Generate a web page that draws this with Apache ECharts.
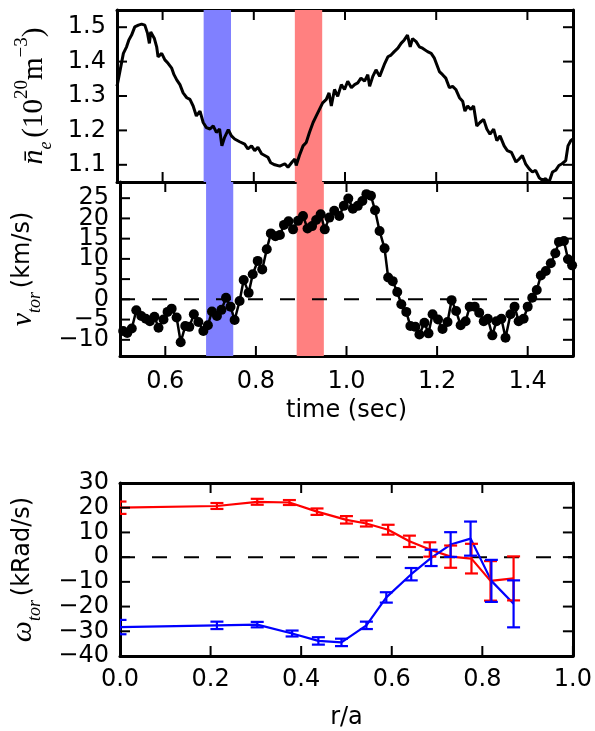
<!DOCTYPE html>
<html>
<head>
<meta charset="utf-8">
<script src="https://cdn.jsdelivr.net/npm/echarts@6/dist/echarts.min.js"></script>
<style>
html,body{margin:0;padding:0;background:#fff;}
#chart{width:595px;height:731px;}
</style>
</head>
<body>
<div id="chart"></div>
<script>
// ---------- data ----------
const timeTicks = [0.6, 0.8, 1.0, 1.2, 1.4];
const neTicks = [1.1, 1.2, 1.3, 1.4, 1.5];
const vTicks = [-10, -5, 0, 5, 10, 15, 20, 25];
const rTicks = [0.0, 0.2, 0.4, 0.6, 0.8, 1.0];
const omegaTicks = [-40, -30, -20, -10, 0, 10, 20, 30];
const blueWindow = [0.69, 0.75];
const redWindow = [0.89, 0.95];

const neTime = [0.500,0.507,0.514,0.521,0.526,0.532,0.539,0.547,0.554,0.561,0.567,0.571,0.574,0.582,0.587,0.590,0.598,0.605,0.612,0.620,0.625,0.631,0.638,0.645,0.653,0.660,0.667,0.674,0.682,0.689,0.696,0.704,0.711,0.718,0.725,0.730,0.736,0.744,0.751,0.758,0.769,0.780,0.787,0.795,0.802,0.809,0.817,0.824,0.831,0.837,0.846,0.857,0.868,0.875,0.884,0.890,0.893,0.900,0.908,0.915,0.922,0.930,0.937,0.944,0.951,0.959,0.965,0.970,0.977,0.984,0.992,0.999,1.006,1.014,1.021,1.028,1.035,1.043,1.050,1.054,1.061,1.068,1.076,1.086,1.094,1.101,1.108,1.116,1.123,1.130,1.137,1.143,1.148,1.156,1.163,1.170,1.181,1.189,1.196,1.207,1.214,1.221,1.229,1.236,1.243,1.251,1.258,1.263,1.269,1.276,1.282,1.289,1.296,1.304,1.311,1.318,1.326,1.333,1.340,1.349,1.356,1.365,1.375,1.382,1.389,1.396,1.404,1.411,1.418,1.426,1.433,1.440,1.447,1.455,1.462,1.469,1.476,1.484,1.489,1.495,1.500];
const neValue = [1.328,1.376,1.424,1.443,1.463,1.477,1.501,1.506,1.509,1.506,1.482,1.453,1.486,1.467,1.443,1.414,1.424,1.405,1.395,1.381,1.362,1.347,1.333,1.309,1.295,1.290,1.271,1.242,1.256,1.223,1.208,1.204,1.213,1.194,1.204,1.155,1.180,1.202,1.184,1.175,1.167,1.160,1.146,1.155,1.141,1.151,1.132,1.127,1.122,1.106,1.100,1.096,1.103,1.093,1.108,1.117,1.098,1.127,1.155,1.165,1.194,1.223,1.242,1.261,1.280,1.290,1.309,1.271,1.319,1.299,1.333,1.319,1.343,1.324,1.333,1.338,1.352,1.343,1.362,1.328,1.357,1.376,1.357,1.391,1.414,1.419,1.429,1.439,1.453,1.463,1.477,1.443,1.467,1.458,1.443,1.439,1.429,1.424,1.410,1.371,1.362,1.352,1.324,1.328,1.319,1.295,1.285,1.256,1.271,1.261,1.271,1.213,1.223,1.232,1.204,1.189,1.204,1.170,1.184,1.155,1.141,1.136,1.108,1.117,1.127,1.103,1.088,1.079,1.084,1.062,1.055,1.060,1.048,1.079,1.084,1.098,1.103,1.112,1.155,1.170,1.175];

const vTime = [0.507,0.516,0.526,0.536,0.547,0.557,0.566,0.576,0.585,0.596,0.605,0.614,0.625,0.634,0.644,0.653,0.663,0.673,0.684,0.694,0.703,0.714,0.724,0.734,0.744,0.753,0.764,0.773,0.784,0.793,0.804,0.814,0.824,0.833,0.843,0.853,0.862,0.872,0.882,0.893,0.904,0.914,0.924,0.933,0.943,0.952,0.962,0.973,0.984,0.994,1.004,1.014,1.025,1.035,1.044,1.054,1.063,1.073,1.084,1.092,1.102,1.112,1.121,1.132,1.141,1.152,1.161,1.172,1.181,1.190,1.202,1.212,1.223,1.232,1.242,1.252,1.263,1.272,1.283,1.293,1.303,1.312,1.322,1.331,1.342,1.351,1.362,1.371,1.380,1.391,1.400,1.410,1.420,1.429,1.440,1.451,1.461,1.469,1.480,1.489,1.498];
const vValue = [-7.8,-8.3,-7.2,-2.7,-4.1,-4.8,-5.4,-4.3,-7.0,-5.0,-3.1,-2.3,-4.5,-10.6,-6.6,-6.8,-3.7,-5.6,-7.8,-6.4,-3.0,-4.1,-2.6,0.4,-1.8,-5.1,-0.4,4.8,1.6,6.2,9.5,7.4,12.4,16.3,15.6,15.9,18.4,19.3,17.3,19.4,20.6,17.5,18.1,19.6,21.0,17.3,20.2,21.9,20.6,23.1,24.9,22.4,23.1,24.3,26.0,25.6,22.0,16.9,12.6,5.4,4.5,1.8,-1.2,-3.1,-6.6,-6.8,-8.7,-5.8,-8.4,-3.7,-5.0,-7.3,-5.6,-0.2,-2.9,-6.4,-5.4,-1.8,-1.8,-3.3,-5.4,-4.8,-8.9,-5.4,-4.8,-9.5,-3.7,-1.8,-5.4,-4.8,-1.8,0.4,2.3,5.9,7.0,8.9,11.4,14.2,14.4,9.9,8.4];

const rRed = [0.0,0.214,0.303,0.374,0.435,0.500,0.544,0.592,0.639,0.684,0.730,0.776,0.818,0.869];
const omegaRed = [20.0,20.7,22.4,22.1,18.4,15.1,13.6,11.1,6.4,3.1,0.2,-0.6,-9.6,-8.6];
const errRed = [2.5,1.2,1.2,1.0,1.3,1.5,1.2,2.0,2.3,2.9,4.5,6.0,8.0,8.9];
const rBlue = [0.0,0.214,0.303,0.380,0.438,0.489,0.544,0.588,0.643,0.687,0.730,0.774,0.820,0.869];
const omegaBlue = [-28.3,-27.6,-27.3,-30.9,-33.9,-34.5,-27.6,-16.3,-6.9,-0.3,5.1,7.5,-9.6,-18.9];
const errBlue = [2.9,1.5,1.1,1.2,1.5,1.5,1.5,2.1,2.5,3.3,5.0,6.9,8.5,9.5];

// ---------- helpers ----------
const FONT = 'DejaVu Sans';
const FS = 24;
const TICK_LEN = 10;
const minus = v => (v < 0 ? '\u2212' + Math.abs(v) : String(v));

const neData = neTime.map((t, i) => [t, neValue[i]]);
const vData = vTime.map((t, i) => [t, vValue[i]]);
const redLine = rRed.map((r, i) => [r, omegaRed[i]]);
const blueLine = rBlue.map((r, i) => [r, omegaBlue[i]]);
const redErr = rRed.map((r, i) => [r, omegaRed[i], 0]).map((d, i) => [d[0], d[1], errRed[i]]);
const blueErr = rBlue.map((r, i) => [r, omegaBlue[i], errBlue[i]]);

function ax(gi, pos, min, max, opts) {
  const a = {
    type: 'value', gridIndex: gi, position: pos, min: min, max: max,
    axisLine: { show: true, onZero: false, lineStyle: { color: '#000', width: 3 } },
    splitLine: { show: false },
    axisTick: { show: false },
    axisLabel: { show: false }
  };
  return Object.assign(a, opts || {});
}
// padded: blank labels at the axis ends so the real end labels are not dropped
function labels(ticks, min, max, fmt, margin, padded) {
  return {
    show: true, color: '#000', fontFamily: FONT, fontSize: FS, margin: margin,
    customValues: padded ? [min].concat(ticks, [max]) : ticks,
    formatter: v => (padded && (Math.abs(v - min) < 1e-9 || Math.abs(v - max) < 1e-9)) ? '' : fmt(v)
  };
}

// inward tick marks on both sides of a grid, placed through the axis scales.
// Each item is a full (x, y) point: [tick, otherAxisMin] for x ticks, [otherAxisMin, tick] for y ticks.
function tickSeries(xi, yi, values, dir, otherMin) {
  return {
    type: 'custom', xAxisIndex: xi, yAxisIndex: yi, z: 10, silent: true, clip: false,
    data: values.map(v => (dir === 'x' ? [v, otherMin, 0] : [otherMin, v, 0])),
    renderItem: function (params, api) {
      const cs = params.coordSys;
      const p = api.coord([api.value(0), api.value(1)]);
      const st = { stroke: '#000', lineWidth: 2 };
      if (dir === 'x') {
        const yb = cs.y + cs.height, yt = cs.y;
        return { type: 'group', children: [
          { type: 'line', shape: { x1: p[0], y1: yb, x2: p[0], y2: yb - TICK_LEN }, style: st },
          { type: 'line', shape: { x1: p[0], y1: yt, x2: p[0], y2: yt + TICK_LEN }, style: st }
        ] };
      }
      const xl = cs.x, xr = cs.x + cs.width;
      return { type: 'group', children: [
        { type: 'line', shape: { x1: xl, y1: p[1], x2: xl + TICK_LEN, y2: p[1] }, style: st },
        { type: 'line', shape: { x1: xr, y1: p[1], x2: xr - TICK_LEN, y2: p[1] }, style: st }
      ] };
    }
  };
}

function bandSeries(xi, yi, win, yMin, color) {
  return {
    type: 'custom', xAxisIndex: xi, yAxisIndex: yi, z: 1, silent: true,
    data: [[win[0], yMin, win[1]]],
    renderItem: function (params, api) {
      const cs = params.coordSys;
      const p0 = api.coord([api.value(0), api.value(1)]);
      const p1 = api.coord([api.value(2), api.value(1)]);
      return { type: 'rect', shape: { x: p0[0], y: cs.y, width: p1[0] - p0[0], height: cs.height },
        style: { fill: color } };
    }
  };
}
function errSeries(xi, yi, data, color) {
  return {
    type: 'custom', xAxisIndex: xi, yAxisIndex: yi, z: 4, clip: true, silent: true,
    data: data,
    renderItem: function (params, api) {
      const x = api.value(0), y = api.value(1), e = api.value(2);
      const a = api.coord([x, y + e]), b = api.coord([x, y - e]);
      const cw = 6.5;
      const st = { stroke: color, lineWidth: 2.2 };
      return { type: 'group', children: [
        { type: 'line', shape: { x1: a[0], y1: a[1], x2: b[0], y2: b[1] }, style: st },
        { type: 'line', shape: { x1: a[0] - cw, y1: a[1], x2: a[0] + cw, y2: a[1] }, style: st },
        { type: 'line', shape: { x1: b[0] - cw, y1: b[1], x2: b[0] + cw, y2: b[1] }, style: st }
      ] };
    }
  };
}

const mathRich = {
  m: { fontFamily: 'Liberation Serif', fontStyle: 'italic', fontSize: 30, lineHeight: 42, verticalAlign: 'middle', color: '#000' },
  r: { fontFamily: 'Liberation Serif', fontSize: 29, lineHeight: 42, verticalAlign: 'middle', color: '#000' },
  s: { fontFamily: FONT, fontSize: FS, lineHeight: 42, verticalAlign: 'middle', color: '#000' },
  sp: { fontFamily: FONT, fontSize: 12, lineHeight: 42, verticalAlign: 'middle', color: '#000' },
  sub: { fontFamily: 'Liberation Serif', fontStyle: 'italic', fontSize: 18, lineHeight: 18, verticalAlign: 'bottom', color: '#000' },
  sup: { fontFamily: 'Liberation Serif', fontSize: 19, lineHeight: 19, verticalAlign: 'top', color: '#000' }
};

const chart = echarts.init(document.getElementById('chart'), null, { renderer: 'canvas', width: 595, height: 731 });
const nameStyle = { fontFamily: FONT, fontSize: FS, color: '#000' };

const option = {
  animation: false,
  backgroundColor: '#fff',
  grid: [
    { left: 117, right: 22, top: 10, height: 172 },
    { left: 117, right: 22, top: 182, height: 174 },
    { left: 117, right: 22, top: 483, height: 173 }
  ],
  xAxis: [
    ax(0, 'bottom', 0.5, 1.5),
    ax(0, 'top', 0.5, 1.5),
    ax(1, 'bottom', 0.5, 1.5, {
      axisLabel: labels(timeTicks, 0.5, 1.5, v => v.toFixed(1), 14, true),
      name: 'time (sec)', nameLocation: 'middle', nameGap: 43, nameTextStyle: nameStyle
    }),
    ax(1, 'top', 0.5, 1.5),
    ax(2, 'bottom', 0, 1, {
      axisLabel: labels(rTicks, 0, 1, v => v.toFixed(1), 12, false),
      name: 'r/a', nameLocation: 'middle', nameGap: 50, nameTextStyle: nameStyle
    }),
    ax(2, 'top', 0, 1)
  ],
  yAxis: [
    ax(0, 'left', 1.05, 1.55, {
      axisLabel: labels(neTicks, 1.05, 1.55, v => v.toFixed(1), 11, true),
      name: '{m|n\u0304}{sub|e}{sp| }{r|(10}{sup|20}{r|m}{sup|\u22123}{r|)}',
      nameLocation: 'middle', nameRotate: 90, nameGap: 62,
      nameTextStyle: { rich: mathRich }
    }),
    ax(0, 'right', 1.05, 1.55),
    ax(1, 'left', -14, 29, {
      axisLabel: labels(vTicks, -14, 29, minus, 11, true),
      name: '{m|v}{sub|tor}{sp| }{s|(km/s)}',
      nameLocation: 'middle', nameRotate: 90, nameGap: 76,
      nameTextStyle: { rich: mathRich }
    }),
    ax(1, 'right', -14, 29),
    ax(2, 'left', -40, 30, {
      axisLabel: labels(omegaTicks, -40, 30, minus, 11, false),
      name: '{m|\u03c9}{sub|tor}{sp| }{s|(kRad/s)}',
      nameLocation: 'middle', nameRotate: 90, nameGap: 76,
      nameTextStyle: { rich: mathRich }
    }),
    ax(2, 'right', -40, 30)
  ],
  series: [
    bandSeries(0, 0, blueWindow, 1.05, '#8080ff'),
    bandSeries(0, 0, redWindow, 1.05, '#ff8080'),
    bandSeries(2, 2, blueWindow, -14, '#8080ff'),
    bandSeries(2, 2, redWindow, -14, '#ff8080'),
    {
      type: 'line', xAxisIndex: 0, yAxisIndex: 0, z: 3, data: neData,
      showSymbol: false, symbol: 'none', lineStyle: { color: '#000', width: 3 }, silent: true
    },
    {
      type: 'line', xAxisIndex: 2, yAxisIndex: 2, z: 2, data: [[0.5, 0], [1.5, 0]],
      symbol: 'none', lineStyle: { color: '#000', width: 2, type: [15, 17] }, silent: true
    },
    {
      type: 'line', xAxisIndex: 2, yAxisIndex: 2, z: 3, data: vData,
      symbol: 'circle', symbolSize: 10, showSymbol: true,
      itemStyle: { color: '#000' }, lineStyle: { color: '#000', width: 2.5 }, silent: true
    },
    {
      type: 'line', xAxisIndex: 4, yAxisIndex: 4, z: 2, data: [[0, 0], [1, 0]],
      symbol: 'none', lineStyle: { color: '#000', width: 2, type: [15, 17] }, silent: true
    },
    {
      type: 'line', xAxisIndex: 4, yAxisIndex: 4, z: 3, data: redLine,
      symbol: 'none', lineStyle: { color: '#ff0000', width: 2.2 }, silent: true
    },
    {
      type: 'line', xAxisIndex: 4, yAxisIndex: 4, z: 3, data: blueLine,
      symbol: 'none', lineStyle: { color: '#0000ff', width: 2.2 }, silent: true
    },
    errSeries(4, 4, redErr, '#ff0000'),
    errSeries(4, 4, blueErr, '#0000ff'),
    tickSeries(0, 0, timeTicks, 'x', 1.05),
    tickSeries(0, 0, neTicks, 'y', 0.5),
    tickSeries(2, 2, timeTicks, 'x', -14),
    tickSeries(2, 2, vTicks, 'y', 0.5),
    tickSeries(4, 4, rTicks, 'x', -40),
    tickSeries(4, 4, omegaTicks, 'y', 0)
  ]
};
chart.setOption(option);
</script>
</body>
</html>
